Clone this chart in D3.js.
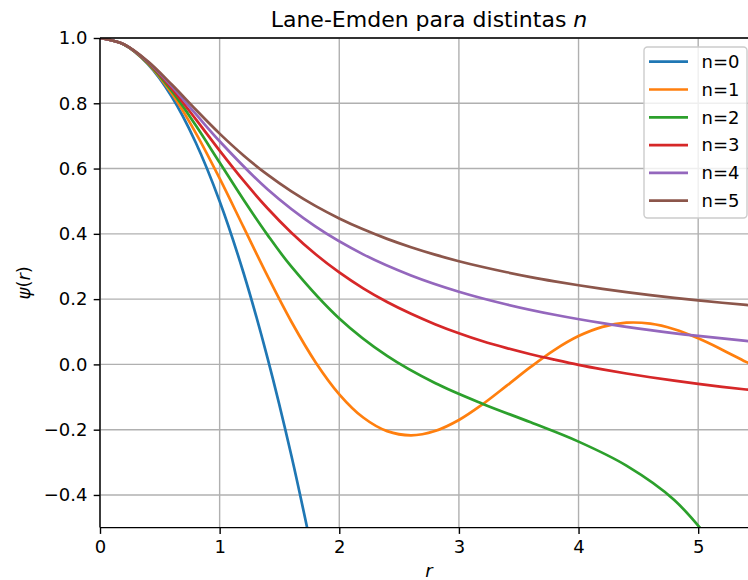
<!DOCTYPE html>
<html lang="es">
<head>
  <meta charset="UTF-8">
  <title>Lane-Emden para distintas n</title>
  <script src="https://d3js.org/d3.v7.min.js"></script>
  <style>
    body { margin: 0; background: #fff; }
    svg { display: block; font-family: "DejaVu Sans", sans-serif; }
    .tick text { font-size: 18px; fill: #000; }
    .tick line { stroke: #000; stroke-width: 1.4; }
    .grid line { stroke: #b0b0b0; stroke-width: 1.4; }
  </style>
</head>
<body>
  <svg width="748" height="580"></svg>

  <script>
    // radius samples
    const r0 = [0, 0.2, 0.4, 0.6, 0.8, 1.0, 1.2, 1.4, 1.6, 1.8];
    const rFine = [0, 0.2, 0.4, 0.6, 0.8, 1.0, 1.2, 1.4, 1.6, 1.8, 2.0, 2.2, 2.4, 2.6, 2.8,
                   3.0, 3.2, 3.4, 3.6, 3.8, 4.0, 4.2, 4.4, 4.6, 4.8, 5.0, 5.2, 5.4, 5.6];
    const r2 = [0, 0.2, 0.4, 0.6, 0.8, 1.0, 1.2, 1.4, 1.6, 2.0, 2.4, 2.8, 3.2, 3.6, 4.0, 4.4, 4.8, 5.2];
    const r4 = [0, 0.2, 0.4, 0.6, 0.8, 1.0, 1.4, 1.8, 2.2, 2.6, 3.0, 3.4, 3.8, 4.2, 4.6, 5.0, 5.4, 5.8];

    // psi(r) for each n
    const psi0 = [1, 0.98, 0.92, 0.82, 0.68, 0.5, 0.28, 0.02, -0.28, -0.62];
    const psi1 = [1, 0.9801, 0.9219, 0.8298, 0.7094, 0.5698, 0.4205, 0.2711, 0.1306, 0.0077,
                  -0.0915, -0.1627, -0.2044, -0.2172, -0.2042, -0.1704, -0.1217, -0.0652, -0.0077, 0.0447,
                  0.0868, 0.1151, 0.1277, 0.1247, 0.1078, 0.0799, 0.0451, 0.0077, -0.0280];
    const psi2 = [1, 0.9802, 0.9237, 0.8378, 0.7325, 0.6184, 0.5044, 0.3968, 0.2994, 0.1406,
                  0.0258, -0.0572, -0.1211, -0.1775, -0.2366, -0.3101, -0.4154, -0.5847];
    const psi3 = [1, 0.9804, 0.9254, 0.8451, 0.7515, 0.6549, 0.5627, 0.4784, 0.4034, 0.3381,
                  0.2817, 0.2330, 0.1911, 0.1550, 0.1233, 0.0954, 0.0707, 0.0499, 0.0312, 0.0145,
                  -0.0013, -0.0152, -0.0278, -0.0393, -0.0499, -0.0596, -0.0686, -0.0769, -0.0846];
    const psi4 = [1, 0.9805, 0.9270, 0.8516, 0.7673, 0.6837, 0.5364, 0.4226, 0.3372, 0.2725,
                  0.2227, 0.1836, 0.1522, 0.1265, 0.1052, 0.0872, 0.0719, 0.0587];
    const psi5 = [1, 0.9806, 0.9285, 0.8575, 0.7809, 0.7071, 0.6402, 0.5812, 0.5300, 0.4856,
                  0.4472, 0.4138, 0.3846, 0.3590, 0.3363, 0.3162, 0.2983, 0.2822, 0.2676, 0.2545,
                  0.2425, 0.2316, 0.2216, 0.2124, 0.2040, 0.1961, 0.1888, 0.1821, 0.1758];

    const labels = ["n=0", "n=1", "n=2", "n=3", "n=4", "n=5"];
    const colors = ["#1f77b4", "#ff7f0e", "#2ca02c", "#d62728", "#9467bd", "#8c564b"];

    const xTicks = [0, 1, 2, 3, 4, 5];
    const yTicks = [-0.4, -0.2, 0.0, 0.2, 0.4, 0.6, 0.8, 1.0];
    const yTickLabels = ["\u22120.4", "\u22120.2", "0.0", "0.2", "0.4", "0.6", "0.8", "1.0"];

    const series = [
      { r: r0, psi: psi0 },
      { r: rFine, psi: psi1 },
      { r: r2, psi: psi2 },
      { r: rFine, psi: psi3 },
      { r: r4, psi: psi4 },
      { r: rFine, psi: psi5 }
    ];

    // plot box (right spine falls just outside the picture)
    const x0 = 100, x1 = 758, y0 = 38, y1 = 527.6;
    const svg = d3.select("svg");

    const x = d3.scaleLinear().domain([0, 5.5]).range([x0, x1]);
    const y = d3.scaleLinear().domain([-0.5, 1.0]).range([y1, y0]);

    // grid
    const grid = svg.append("g").attr("class", "grid");
    grid.selectAll(".gx").data(xTicks).join("line")
      .attr("x1", d => x(d)).attr("x2", d => x(d))
      .attr("y1", y0).attr("y2", y1);
    grid.selectAll(".gy").data(yTicks).join("line")
      .attr("class", "gy")
      .attr("x1", x0).attr("x2", x1)
      .attr("y1", d => y(d)).attr("y2", d => y(d));

    // curves
    svg.append("clipPath").attr("id", "plot-clip")
      .append("rect")
      .attr("x", x0).attr("y", y0)
      .attr("width", x1 - x0).attr("height", y1 - y0);

    const line = d3.line()
      .x(d => x(d[0]))
      .y(d => y(d[1]))
      .curve(d3.curveCatmullRom.alpha(0.5));

    svg.append("g").attr("clip-path", "url(#plot-clip)")
      .selectAll("path")
      .data(series)
      .join("path")
      .attr("fill", "none")
      .attr("stroke", (d, i) => colors[i])
      .attr("stroke-width", 2.7)
      .attr("stroke-linejoin", "round")
      .attr("d", d => line(d3.zip(d.r, d.psi)));

    // axes
    svg.append("g")
      .attr("transform", `translate(0,${y1})`)
      .call(d3.axisBottom(x).tickValues(xTicks).tickFormat(d3.format("d"))
        .tickSizeInner(6.3).tickSizeOuter(0).tickPadding(6.3))
      .call(g => g.select(".domain").remove());

    svg.append("g")
      .attr("transform", `translate(${x0},0)`)
      .call(d3.axisLeft(y).tickValues(yTicks).tickFormat((d, i) => yTickLabels[i])
        .tickSizeInner(6.3).tickSizeOuter(0).tickPadding(6.3))
      .call(g => g.select(".domain").remove());

    svg.selectAll(".tick text").attr("font-family", "DejaVu Sans");

    // spines
    const spines = svg.append("g").attr("stroke", "#000").attr("stroke-width", 1.4);
    spines.append("line").attr("x1", x0).attr("x2", x0).attr("y1", y0).attr("y2", y1);
    spines.append("line").attr("x1", x0).attr("x2", x1).attr("y1", y1).attr("y2", y1);
    spines.append("line").attr("x1", x0).attr("x2", x1).attr("y1", y0).attr("y2", y0);
    spines.append("line").attr("x1", x1).attr("x2", x1).attr("y1", y0).attr("y2", y1);

    // title and axis labels
    const title = svg.append("text")
      .attr("x", (x0 + x1) / 2).attr("y", 27)
      .attr("text-anchor", "middle")
      .attr("font-size", 22);
    title.append("tspan").text("Lane-Emden para distintas ");
    title.append("tspan").attr("font-style", "italic").text("n");

    svg.append("text")
      .attr("x", (x0 + x1) / 2).attr("y", 577)
      .attr("text-anchor", "middle")
      .attr("font-size", 18)
      .attr("font-style", "italic")
      .text("r");

    const ylab = svg.append("text")
      .attr("transform", `translate(30,${(y0 + y1) / 2}) rotate(-90)`)
      .attr("text-anchor", "middle")
      .attr("font-size", 18);
    ylab.append("tspan").attr("font-style", "italic").text("\u03c8");
    ylab.append("tspan").text("(");
    ylab.append("tspan").attr("font-style", "italic").text("r");
    ylab.append("tspan").text(")");

    // legend
    const lg = svg.append("g").attr("transform", "translate(644,47)");
    lg.append("rect")
      .attr("width", 103).attr("height", 171)
      .attr("rx", 3.5)
      .attr("fill", "#fff").attr("fill-opacity", 0.8)
      .attr("stroke", "#cccccc").attr("stroke-width", 1.4);

    const items = lg.selectAll(".item").data(labels).join("g")
      .attr("class", "item")
      .attr("transform", (d, i) => `translate(0,${14.7 + i * 27.8})`);
    items.append("line")
      .attr("x1", 5).attr("x2", 44)
      .attr("stroke", (d, i) => colors[i])
      .attr("stroke-width", 2.7);
    items.append("text")
      .attr("x", 57.5).attr("dy", "0.35em")
      .attr("font-size", 18)
      .text(d => d);
  </script>
</body>
</html>
